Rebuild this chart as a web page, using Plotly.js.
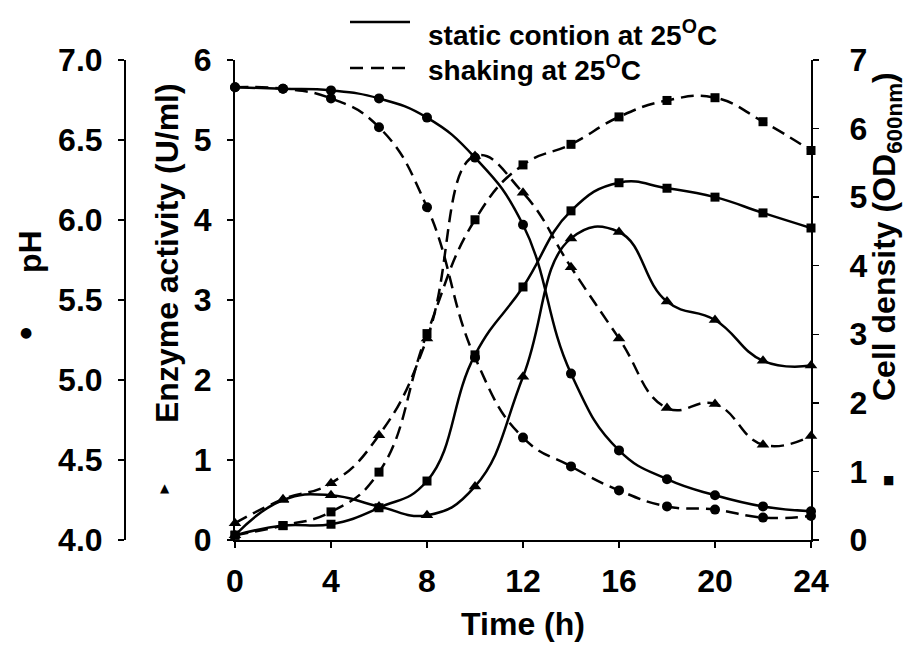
<!DOCTYPE html>
<html>
<head>
<meta charset="utf-8">
<script src="https://cdn.plot.ly/plotly-3.0.1.min.js"></script>
<style>html,body{margin:0;padding:0;background:#fff;}#chart{width:906px;height:647px;}</style>
</head>
<body>
<div id="chart"></div>
<script>
// Time (h)
const TIME = [0, 2, 4, 6, 8, 10, 12, 14, 16, 18, 20, 22, 24];
// pH
const PH_STATIC  = [6.83, 6.82, 6.81, 6.76, 6.64, 6.39, 5.97, 5.04, 4.56, 4.38, 4.28, 4.21, 4.18];
const PH_SHAKING = [6.83, 6.82, 6.76, 6.58, 6.08, 5.14, 4.64, 4.46, 4.31, 4.21, 4.19, 4.14, 4.15];
// Enzyme activity (U/ml)
const ENZ_STATIC  = [0.06, 0.50, 0.56, 0.42, 0.31, 0.67, 2.04, 3.77, 3.85, 2.98, 2.75, 2.24, 2.18];
const ENZ_SHAKING = [0.21, 0.51, 0.71, 1.31, 2.52, 4.80, 4.34, 3.41, 2.52, 1.65, 1.70, 1.19, 1.30];
// Cell density (OD600nm)
const OD_STATIC  = [0.07, 0.21, 0.23, 0.47, 0.86, 2.70, 3.69, 4.80, 5.21, 5.13, 5.00, 4.77, 4.55];
const OD_SHAKING = [0.07, 0.21, 0.41, 0.99, 3.01, 4.67, 5.47, 5.77, 6.17, 6.41, 6.45, 6.10, 5.68];

const X_TICKS = [0, 4, 8, 12, 16, 20, 24];
const LEGEND_STATIC = 'static contion at 25<sup>O</sup>C';
const LEGEND_SHAKING = 'shaking at 25<sup>O</sup>C';

const FONT = 'Liberation Sans, Arial, Helvetica, sans-serif';
const DASH = '13px,7px';
const LW = 2.5;

function tr(y, axis, dash, symbol, size) {
  return {
    x: TIME, y: y, yaxis: axis, type: 'scatter', mode: 'lines+markers',
    line: {color: '#000', width: LW, dash: dash, shape: 'spline', smoothing: 1.3},
    marker: {color: '#000', symbol: symbol, size: size},
    cliponaxis: false, showlegend: false, hoverinfo: 'x+y'
  };
}

const data = [
  tr(PH_STATIC, 'y2', 'solid', 'circle', 10),
  tr(PH_SHAKING, 'y2', DASH, 'circle', 10),
  tr(ENZ_STATIC, 'y', 'solid', 'triangle-up', 11),
  tr(ENZ_SHAKING, 'y', DASH, 'triangle-up', 11),
  tr(OD_STATIC, 'y3', 'solid', 'square', 9),
  tr(OD_SHAKING, 'y3', DASH, 'square', 9)
];

// pixel helpers (paper coords): plot area x 40..811 (paper), y 60..540
const L = 40, R = 95, T = 60, B = 107, W = 906, H = 647;
const PW = W - L - R, PH = H - T - B;
const px = v => (v - L) / PW;
const py = v => (H - B - v) / PH;

const BIG = 32;
const tickFont = {family: FONT, size: BIG, color: '#000', weight: 'bold'};
const axCommon = {
  showline: true, linecolor: '#000', linewidth: 2,
  ticks: 'outside', ticklen: 6, tickwidth: 1.5, tickcolor: '#000',
  showgrid: false, zeroline: false, tickfont: tickFont, fixedrange: true
};

const layout = {
  width: W, height: H,
  margin: {l: L, r: R, t: T, b: B},
  paper_bgcolor: '#fff', plot_bgcolor: 'rgba(0,0,0,0)',
  font: {family: FONT, color: '#000', weight: 'bold'},
  showlegend: false,
  xaxis: Object.assign({}, axCommon, {
    domain: [px(235), 1], range: [0, 24], tickvals: X_TICKS,
    ticklabelstandoff: 6,
    title: {text: 'Time (h)', font: {family: FONT, size: BIG, color: '#000', weight: 'bold'}, standoff: 14}
  }),
  yaxis: Object.assign({}, axCommon, {
    anchor: 'x', side: 'left', range: [0, 6], dtick: 1, tick0: 0, ticklabelstandoff: 9
  }),
  yaxis2: Object.assign({}, axCommon, {
    overlaying: 'y', anchor: 'free', position: px(125), side: 'left',
    range: [4, 7], dtick: 0.5, tick0: 4, tickformat: '.1f', ticklabelstandoff: 9
  }),
  yaxis3: Object.assign({}, axCommon, {
    overlaying: 'y', anchor: 'x', side: 'right', range: [0, 7], dtick: 1, tick0: 0, ticklabelstandoff: 24
  }),
  shapes: [
    {type: 'line', xref: 'paper', yref: 'paper', x0: px(350), x1: px(410), y0: py(22), y1: py(22),
     line: {color: '#000', width: 2.4}},
    {type: 'line', xref: 'paper', yref: 'paper', x0: px(350), x1: px(410), y0: py(68), y1: py(68),
     line: {color: '#000', width: 2.4, dash: '13px,8px'}}
  ],
  annotations: [
    {xref: 'paper', yref: 'paper', x: px(426), y: py(33), xanchor: 'left', yanchor: 'middle', showarrow: false,
     text: LEGEND_STATIC, font: {family: FONT, size: 28, color: '#000', weight: 'bold'}},
    {xref: 'paper', yref: 'paper', x: px(426), y: py(68), xanchor: 'left', yanchor: 'middle', showarrow: false,
     text: LEGEND_SHAKING, font: {family: FONT, size: 28, color: '#000', weight: 'bold'}},
    {xref: 'paper', yref: 'paper', x: px(30), y: py(252), xanchor: 'center', yanchor: 'middle', showarrow: false,
     textangle: -90, text: 'pH', font: {family: FONT, size: BIG, color: '#000', weight: 'bold'}},
    {xref: 'paper', yref: 'paper', x: px(26), y: py(332), xanchor: 'center', yanchor: 'middle', showarrow: false,
     text: '●', font: {family: 'DejaVu Sans', size: 14, color: '#000'}},
    {xref: 'paper', yref: 'paper', x: px(167), y: py(253), xanchor: 'center', yanchor: 'middle', showarrow: false,
     textangle: -90, text: 'Enzyme activity (U/ml)', font: {family: FONT, size: BIG, color: '#000', weight: 'bold'}},
    {xref: 'paper', yref: 'paper', x: px(165), y: py(488), xanchor: 'center', yanchor: 'middle', showarrow: false,
     text: '▲', font: {family: 'DejaVu Sans', size: 12, color: '#000'}},
    {xref: 'paper', yref: 'paper', x: px(886), y: py(237), xanchor: 'center', yanchor: 'middle', showarrow: false,
     textangle: -90, text: 'Cell density (OD<sub>600nm</sub>)', font: {family: FONT, size: BIG, color: '#000', weight: 'bold'}},
    {xref: 'paper', yref: 'paper', x: px(888), y: py(480), xanchor: 'center', yanchor: 'middle', showarrow: false,
     text: '■', font: {family: 'DejaVu Sans', size: 12, color: '#000'}}
  ]
};

Plotly.newPlot('chart', data, layout, {displayModeBar: false, staticPlot: true});
</script>
</body>
</html>
